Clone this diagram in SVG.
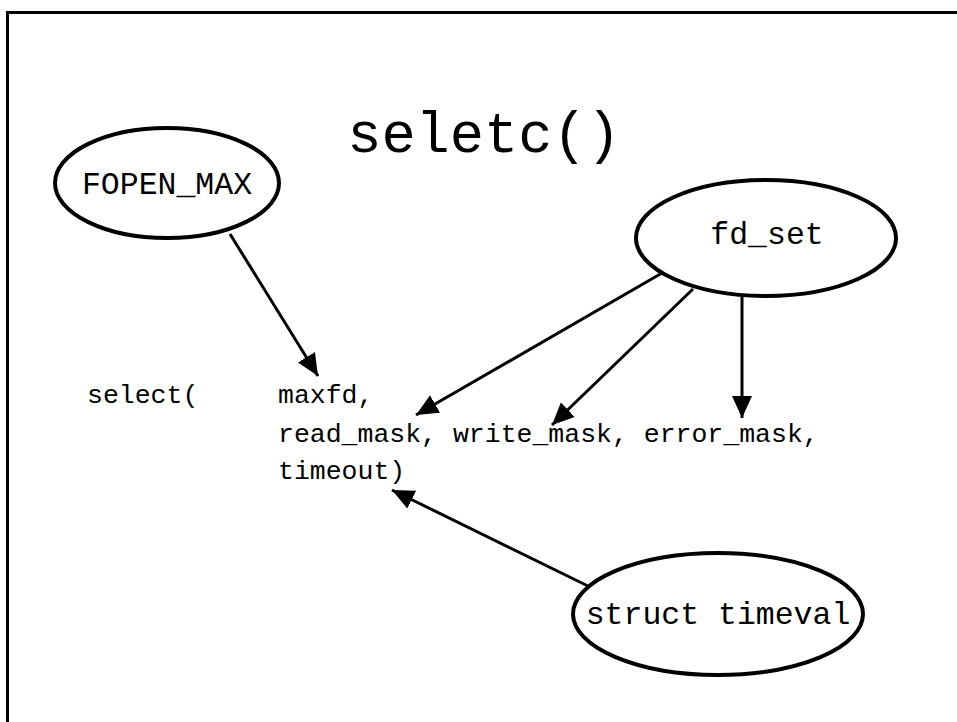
<svg xmlns="http://www.w3.org/2000/svg" width="957" height="722" viewBox="0 0 957 722">
<style>
.node ellipse{fill:#fff;stroke:#000;stroke-width:4}
.lbl{font-family:"Liberation Mono","Courier New",monospace;fill:#000}
.nt{font-size:31.5px;text-anchor:middle}
.code{font-size:26.5px}
.edge{stroke:#000;stroke-width:3;fill:none;marker-end:url(#ah)}
</style>
<defs>
<marker id="ah" markerUnits="userSpaceOnUse" markerWidth="24" markerHeight="22" refX="22" refY="10" orient="auto" viewBox="0 0 24 22">
<path d="M0,0 L22,10 L0,20 Z" fill="#000"/>
</marker>
</defs>
<rect x="7.5" y="12.5" width="1000" height="800" fill="#fff" stroke="#000" stroke-width="3"/>
<text id="title" class="lbl" x="484" y="152" font-size="57" text-anchor="middle">seletc()</text>
<g id="connectors">
<line class="edge" x1="230" y1="234" x2="318" y2="376"/>
<line class="edge" x1="662" y1="273" x2="416" y2="415"/>
<line class="edge" x1="693" y1="289" x2="552" y2="425"/>
<line class="edge" x1="742" y1="297" x2="742" y2="418"/>
<line class="edge" x1="590" y1="587" x2="392" y2="490"/>
</g>
<g id="node-fopen" class="node">
<ellipse cx="167" cy="183" rx="112" ry="55"/>
<text class="lbl nt" x="167" y="194">FOPEN_MAX</text>
</g>
<g id="node-fdset" class="node">
<ellipse cx="766" cy="238" rx="130" ry="58"/>
<text class="lbl nt" x="767" y="244">fd_set</text>
</g>
<g id="node-timeval" class="node">
<ellipse cx="718" cy="614" rx="145" ry="61"/>
<text class="lbl nt" x="718" y="624">struct timeval</text>
</g>
<g id="code">
<text class="lbl code" x="87" y="403">select(</text>
<text class="lbl code" x="278" y="403">maxfd,</text>
<text class="lbl code" x="278" y="442">read_mask, write_mask, error_mask,</text>
<text class="lbl code" x="278" y="479">timeout)</text>
</g>
</svg>
